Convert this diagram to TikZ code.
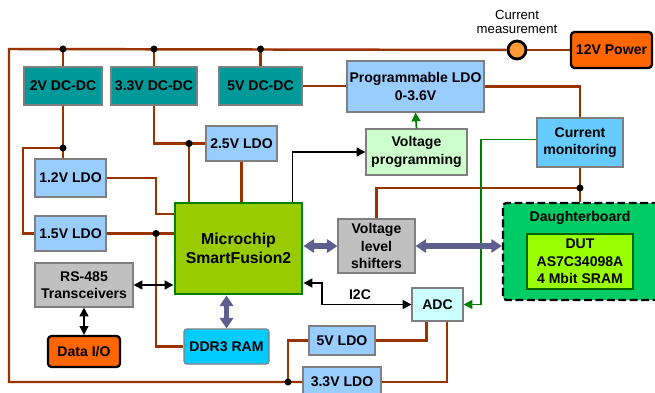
\documentclass[tikz,border=0pt]{standalone}
\usepackage{fontspec}
\setmainfont{Liberation Sans}
\usepackage{tikz}
\usetikzlibrary{arrows.meta}
\usepackage{xcolor}

\definecolor{wirebrown}{HTML}{993300}
\definecolor{dcteal}{HTML}{009999}
\definecolor{ldoblue}{HTML}{99CCFF}
\definecolor{monblue}{HTML}{66CCFF}
\definecolor{progreen}{HTML}{CCFFCC}
\definecolor{shiftgrey}{HTML}{C0C0C0}
\definecolor{mcugreen}{HTML}{99CC00}
\definecolor{mcuedge}{HTML}{008000}
\definecolor{dbgreen}{HTML}{00CC66}
\definecolor{dutlime}{HTML}{99FF00}
\definecolor{adccyan}{HTML}{CCFFFF}
\definecolor{ramcyan}{HTML}{00CCFF}
\definecolor{pwrorange}{HTML}{FF6600}
\definecolor{measorange}{HTML}{FF9933}
\definecolor{busviolet}{HTML}{5F5F8F}
\definecolor{boxline}{HTML}{7F7F7F}

\newcommand{\pxu}{0.02cm}

\begin{document}
\begin{tikzpicture}[x=0.02cm, y=-0.02cm,
    sz/.style 2 args={minimum width=#1*\pxu, minimum height=#2*\pxu},
    blk/.style={draw=boxline, line width=0.6pt, inner sep=0pt, align=center,
        font=\fontsize{8}{10}\selectfont\bfseries},
    ldo/.style={blk, fill=ldoblue},
    dcdc/.style={blk, fill=dcteal},
    ext/.style={blk, draw=black, line width=1.3pt, rounded corners=2pt, fill=pwrorange},
    wire/.style={wirebrown, line width=1.4pt},
    sig/.style={black, line width=1pt},
    fat/.style={busviolet, line width=3pt, {Triangle[length=6pt,width=7.5pt]}-{Triangle[length=6pt,width=7.5pt]}}]

    \useasboundingbox (0,0) rectangle (655,392);
    \clip (0,0) rectangle (655,392);

    % Supplies
    \node[ext, sz={81}{36}] (power) at (611.5,50) {12V Power};
    \node[circle, draw=black, line width=1.6pt, fill=measorange, minimum size=18*\pxu, inner sep=0pt] (meas) at (517,50) {};
    \node[align=center, font=\fontsize{7.5}{7.5}\selectfont] (measlbl) at (517,22) {Current\\measurement};
    \node[dcdc, sz={78}{38}] (dcdctwo) at (63,86) {2V DC-DC};
    \node[dcdc, sz={86}{38}] (dcdcthree) at (154,86) {3.3V DC-DC};
    \node[dcdc, sz={83}{38}] (dcdcfive) at (260.5,86) {5V DC-DC};
    \node[ldo, sz={71}{38}] (ldoonetwo) at (70.5,178) {1.2V LDO};
    \node[ldo, sz={71}{35}] (ldoonefive) at (70.5,233.5) {1.5V LDO};
    \node[ldo, sz={71}{35}] (ldotwofive) at (241.5,143.5) {2.5V LDO};
    \node[ldo, sz={137}{51}] (progldo) at (415.5,86.5) {Programmable LDO\\0-3.6V};
    \node[ldo, sz={66}{29}] (ldofive) at (342,340.5) {5V LDO};
    \node[ldo, sz={78}{30}] (ldothree) at (342,382) {3.3V LDO};

    % Logic and periphery
    \node[blk, draw=mcuedge, line width=1.7pt, fill=mcugreen, sz={127}{91},
        font=\fontsize{9}{11}\selectfont\bfseries] (mcu) at (238.5,248.5) {Microchip\\SmartFusion2};
    \node[blk, fill=progreen, sz={101}{46}] (vprog) at (416.5,152) {Voltage\\programming};
    \node[blk, fill=monblue, sz={86}{49}] (curmon) at (580,142.5) {Current\\monitoring};
    \node[blk, fill=shiftgrey, sz={77}{54}] (vls) at (376.5,246) {Voltage\\level\\shifters};
    \node[blk, fill=adccyan, sz={51}{33}] (adc) at (437.5,304.5) {ADC};
    \node[blk, fill=shiftgrey, sz={98}{44}] (rs) at (84,285) {RS-485\\Transceivers};
    \node[ext, sz={72}{31}] (dataio) at (84,351.5) {Data I/O};
    \node[blk, fill=ramcyan, rounded corners=1.5pt, sz={85}{35}] (ddr) at (226.5,346.5) {DDR3 RAM};

    % Daughterboard
    \node[blk, draw=black, line width=1.3pt, dash pattern=on 4.5pt off 2pt, fill=dbgreen, rounded corners=2pt, sz={160}{97}] (daughter) at (583,251.5) {};
    \node[font=\fontsize{8}{10}\selectfont\bfseries] (dblbl) at (580,218) {Daughterboard};
    \node[blk, draw=black!60!green, fill=dutlime, sz={106}{55}] (dut) at (580,261.5) {DUT\\AS7C34098A\\4 Mbit SRAM};

    % Junctions
    \coordinate (topleft) at (9,49);
    \coordinate (botleft) at (9,382);
    \coordinate (jtopa) at (63,49);
    \coordinate (jtopb) at (154,49);
    \coordinate (jtopc) at (260.5,49);
    \coordinate (jtwo) at (63,148);
    \coordinate (bendA) at (23,148);
    \coordinate (jtwofive) at (189,143.5);
    \coordinate (bendB) at (156,214);
    \coordinate (jonefive) at (156,233.5);
    \coordinate (jcur) at (580,188);
    \coordinate (jbot) at (288,382);
    \coordinate (bendC) at (481,304.5);
    \coordinate (bendD) at (322,283);

    % Power wiring
    \draw[wire] (meas) -- (power);
    \draw[wire] (meas) -- (topleft) -- (botleft) -- (ldothree.west);
    \draw[wire] (jtopa) -- (dcdctwo.north);
    \draw[wire] (jtopb) -- (dcdcthree.north);
    \draw[wire] (jtopc) -- (dcdcfive.north);
    \draw[wire] (dcdctwo.south) -- (jtwo) -- (jtwo |- ldoonetwo.north);
    \draw[wire] (jtwo) -- (bendA) |- (ldoonefive.west);
    \draw[wire] (dcdcthree.south) |- (ldotwofive.west);
    \draw[wire] (jtwofive) -- (jtwofive |- mcu.north);
    \draw[wire] (ldotwofive.south) -- (ldotwofive.south |- mcu.north);
    \draw[wire] (ldoonetwo.east) -| (bendB) -- (bendB -| mcu.west);
    \draw[wire] (ldoonefive.east) -- (jonefive -| mcu.west);
    \draw[wire] (jonefive) |- (ddr.west);
    \draw[wire] (dcdcfive.east) -- (dcdcfive.east -| progldo.west);
    \draw[wire] (progldo.east) -| (curmon.north);
    \draw[wire] (curmon.south) -- (jcur |- daughter.north);
    \draw[wire] (jcur) -| (vls.north);
    \draw[wire] (jbot) |- (ldofive.west);
    \draw[wire] (ldofive.east) -| ([xshift=-11*\pxu]adc.south);
    \draw[wire] (ldothree.east) -| ([xshift=9.5*\pxu]adc.south);
    \foreach \j in {jtopa,jtopb,jtopc,jtwo,jtwofive,jonefive,jcur,jbot}
        \fill (\j) circle (2pt);

    % Signals
    \draw[mcuedge, line width=1pt, -{Triangle[length=5pt,width=5pt]}] (vprog.north) -- (progldo.south);
    \draw[mcuedge, line width=1pt, -{Triangle[length=5pt,width=5pt]}] ([yshift=3*\pxu]curmon.west) -| (bendC) -- (adc.east);
    \draw[sig, -{Triangle[length=5pt,width=5pt]}] ([xshift=-11*\pxu]mcu.north east) |- (vprog.west);
    \draw[sig, {Triangle[length=5pt,width=5pt]}-{Triangle[length=5pt,width=5pt]}] (adc.west) -| (bendD) -- (bendD -| mcu.east);
    \node[font=\fontsize{8}{10}\selectfont\bfseries] (itwoc) at (360,295) {I2C};
    \draw[sig, {Triangle[length=5pt,width=5pt]}-{Triangle[length=5pt,width=5pt]}] (rs.east) -- (rs.east -| mcu.west);
    \draw[sig, {Triangle[length=5pt,width=5pt]}-{Triangle[length=5pt,width=5pt]}] (rs.south) -- (dataio.north);

    % Buses
    \draw[fat] (ddr.north) -- (ddr.north |- mcu.south);
    \draw[fat] (vls.west -| mcu.east) -- (vls.west);
    \draw[fat] (vls.east) -- (vls.east -| daughter.west);
\end{tikzpicture}
\end{document}
